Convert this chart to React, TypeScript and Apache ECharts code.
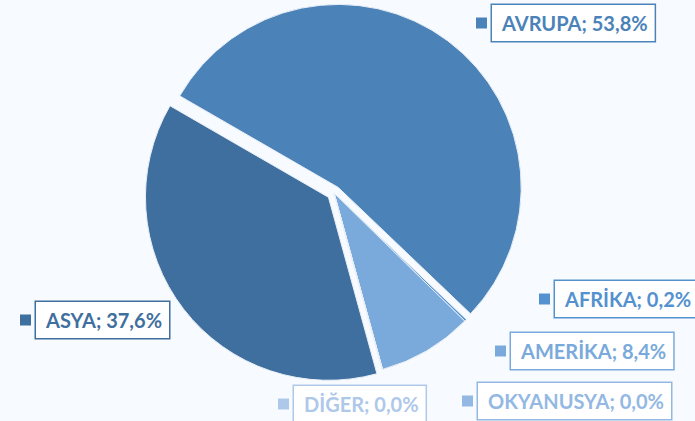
import React, { useEffect, useRef } from "react";
import * as echarts from "echarts";

const categories = ["AVRUPA", "AFRİKA", "AMERİKA", "OKYANUSYA", "DİĞER", "ASYA"];
const values = [53.8, 0.2, 8.4, 0.0, 0.0, 37.6];
const exploded = [true, false, false, false, false, true];

const sliceColors = ["#4b83b9", "#5491cf", "#7aaadb", "#93b8e3", "#aec8ea", "#3f6f9e"];
// key square left edge and label vertical centre
const labelPos: [number, number][] = [
  [476, 23],
  [539, 299],
  [495, 351],
  [462, 401],
  [278, 404],
  [20, 320],
];

const fmt = (v: number) => v.toFixed(1).replace(".", ",") + "%";

export default function App() {
  const ref = useRef<HTMLDivElement>(null);
  useEffect(() => {
    if (!ref.current) return;
    const chart = echarts.init(ref.current, null, { renderer: "svg" });
    const data = categories.map((name, i) => ({
      name,
      value: values[i],
      selected: exploded[i],
      itemStyle: { color: sliceColors[i] },
    }));
    const graphics: any[] = [];
    categories.forEach((name, i) => {
      const [kx, cy] = labelPos[i];
      graphics.push({
        type: "rect",
        silent: true,
        shape: { x: kx, y: cy - 5.5, width: 11, height: 11 },
        style: { fill: sliceColors[i] },
      });
      graphics.push({
        type: "text",
        silent: true,
        x: kx + 16,
        y: cy,
        style: {
          text: `${name}; ${fmt(values[i])}`,
          fill: sliceColors[i],
          fontFamily: "Lato",
          fontWeight: "bold",
          fontSize: 20,
          lineHeight: 22,
          align: "left",
          verticalAlign: "middle",
          backgroundColor: "#ffffff",
          borderColor: sliceColors[i],
          borderWidth: 1.5,
          padding: [7, 7, 7, 10],
        },
      });
    });
    chart.setOption({
      animation: false,
      backgroundColor: "#f7fbff",
      series: [
        {
          type: "pie",
          center: [334, 193],
          radius: 183,
          startAngle: 150,
          clockwise: true,
          selectedMode: "multiple",
          selectedOffset: 7,
          stillShowZeroSum: true,
          itemStyle: { borderColor: "#e9eff6", borderWidth: 1 },
          emphasis: { disabled: true },
          label: { show: false },
          labelLine: { show: false },
          data,
        },
      ],
      graphic: graphics,
    });
    return () => chart.dispose();
  }, []);
  return <div ref={ref} style={{ position: "fixed", left: 0, top: 0, width: 695, height: 421 }} />;
}
